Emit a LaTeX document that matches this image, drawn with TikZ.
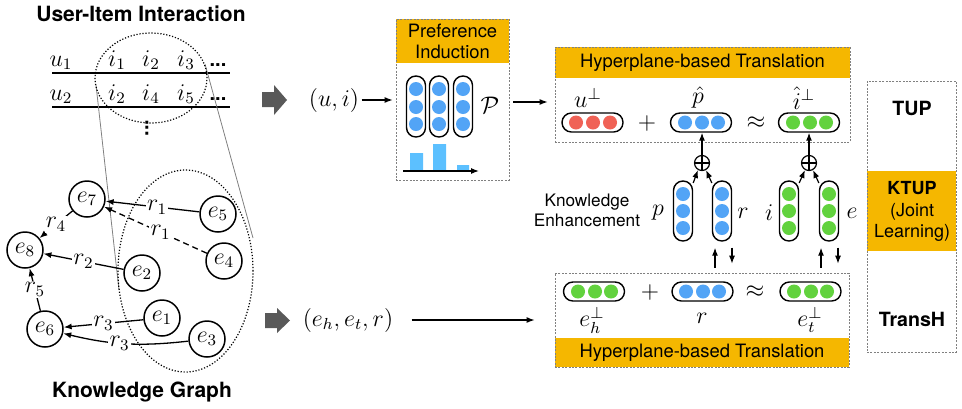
\documentclass[tikz,border=0pt]{standalone}
\usepackage{amsmath,amssymb}
\usepackage{fontspec}
\setsansfont{TeX Gyre Heros}
\usepackage{tikz}
\usetikzlibrary{arrows.meta}
\definecolor{gold}{RGB}{245,183,0}
\definecolor{dotblue}{RGB}{82,164,246}
\definecolor{dotred}{RGB}{240,98,86}
\definecolor{dotgreen}{RGB}{98,210,62}
\definecolor{barblue}{RGB}{92,192,255}

\begin{document}
\begin{tikzpicture}[x=0.5pt,y=-0.5pt,>={Latex[length=4pt,width=3pt]},
  mth/.style={font=\fontsize{12}{14}\selectfont,inner sep=1pt},
  headline/.style={font=\sffamily\bfseries\fontsize{10.5}{12}\selectfont},
  ent/.style={circle,draw,line width=0.75pt,fill=white,minimum size=18pt,inner sep=0pt,font=\fontsize{12}{14}\selectfont},
  rel/.style={fill=white,inner sep=0.6pt,font=\fontsize{12}{14}\selectfont},
  kgedge/.style={->,line width=0.65pt},
  hdr/.style={fill=gold,inner sep=0pt,font=\sffamily\fontsize{9.2}{10.5}\selectfont,align=center},
  panel/.style={draw=gray,dash pattern=on 1pt off 0.7pt,line width=0.4pt,inner sep=0pt},
  hpill/.style={draw,fill=white,rounded corners=4.7pt,line width=0.7pt,minimum width=30.5pt,minimum height=9.5pt,inner sep=0pt},
  vpill/.style={draw,fill=white,rounded corners=4.7pt,line width=0.7pt,minimum width=9.5pt,minimum height=30pt,inner sep=0pt},
  oplus/.style={circle,draw,line width=0.6pt,minimum size=7.5pt,inner sep=0pt,
    path picture={\draw[line width=0.6pt] (path picture bounding box.north) -- (path picture bounding box.south)
      (path picture bounding box.west) -- (path picture bounding box.east);}},
  lbl/.style={font=\sffamily\bfseries\fontsize{9.8}{11}\selectfont,align=center}]
\useasboundingbox (0,0) rectangle (962,408);

% user-item table
\node[headline] (uititle) at (141,14) {User-Item Interaction};
\node[mth,anchor=base] (u1) at (61,66) {$u_1$};
\node[mth,anchor=base] (i11) at (117,66) {$i_1$};
\node[mth,anchor=base] (i12) at (151,66) {$i_2$};
\node[mth,anchor=base] (i13) at (186,66) {$i_3$};
\node[anchor=base,font=\sffamily\bfseries] (more1) at (218,66) {...};
\node[mth,anchor=base] (u2) at (61,100) {$u_2$};
\node[mth,anchor=base] (i22) at (117,100) {$i_2$};
\node[mth,anchor=base] (i24) at (151,100) {$i_4$};
\node[mth,anchor=base] (i25) at (186,100) {$i_5$};
\node[anchor=base,font=\sffamily\bfseries] (more2) at (218,100) {...};
\node[rotate=90,font=\sffamily\bfseries] (vdots) at (147,128) {...};
\draw[line width=0.7pt] (52,73) -- (230,73) (52,107) -- (230,107);

% zoom cone between the two ellipses
\draw[gray,line width=0.4pt] (96,85) -- (119,290) (205,64) -- (253,238);
\draw[dash pattern=on 0.6pt off 0.9pt,line width=0.6pt] (151,78) ellipse [x radius=28pt,y radius=22.5pt];
\draw[dash pattern=on 0.6pt off 0.9pt,line width=0.6pt] (185.5,271) ellipse [x radius=33.75pt,y radius=50.5pt];

% knowledge graph
\node[ent] (e7) at (87,199) {$e_7$};
\node[ent] (e8) at (25,250) {$e_8$};
\node[ent] (e5) at (218,214) {$e_5$};
\node[ent] (e4) at (224,261) {$e_4$};
\node[ent] (e2) at (142,273) {$e_2$};
\node[ent] (e1) at (162,318) {$e_1$};
\node[ent] (e6) at (45,329) {$e_6$};
\node[ent] (e3) at (207,339) {$e_3$};
\draw[kgedge] (e5) -- node[rel,pos=0.45]{$r_1$} (e7);
\draw[kgedge,densely dashed] (e4) -- node[rel,pos=0.45]{$r_1$} (e7);
\draw[kgedge] (e7) -- node[rel]{$r_4$} (e8);
\draw[kgedge] (e2) -- node[rel]{$r_2$} (e8);
\draw[kgedge] (e6) -- node[rel]{$r_5$} (e8);
\draw[kgedge] (e1) -- node[rel]{$r_3$} (e6);
\draw[kgedge] (e3) to[bend left=10] node[rel,pos=0.55]{$r_3$} (e6);
\node[headline] (kgtitle) at (142,392) {Knowledge Graph};

% block arrows
\fill[black!65] (262,92) -- (274,92) -- (274,85) -- (287,100) -- (274,115) -- (274,107) -- (262,107) -- cycle;
\fill[black!65] (265,313) -- (277,313) -- (277,308) -- (290,320.5) -- (277,333) -- (277,328) -- (265,328) -- cycle;

% preference induction
\node[mth] (uipair) at (334,100) {$(u,i)$};
\node[hdr,minimum width=56.5pt,minimum height=22pt] (pihead) at (452.5,41) {Preference\\Induction};
\node[panel,minimum width=56.5pt,minimum height=80.5pt] (pibox) at (452.5,99.5) {};
\foreach \x in {416,439,463} {
  \node[vpill,minimum height=30.5pt] (pi\x) at (\x,106.5) {};
  \foreach \y in {89,107,124} \fill[dotblue] (\x,\y) circle (3.5pt);
}
\fill[barblue] (410,171) rectangle (423,153) (433,171) rectangle (446,144) (457,171) rectangle (469,165);
\draw[->,line width=0.6pt] (403,171) -- (479,171);
\node[mth] (pset) at (490,105) {$\mathcal{P}$};
\draw[->,line width=0.6pt,shorten >=1.5pt] (uipair) -- (pibox.west |- uipair);

% top translation
\node[hdr,minimum width=147.5pt,minimum height=15.5pt] (thead) at (702.5,62.5) {Hyperplane-based Translation};
\node[panel,minimum width=147.5pt,minimum height=47.5pt] (tbox) at (702.5,94.5) {};
\draw[->,line width=0.6pt,shorten <=2pt,shorten >=3.5pt] ([yshift=-1.25pt]pibox.east) -- ([yshift=-1.25pt]pibox.east -| tbox.west);
\node[hpill] (uperp) at (592.5,122.5) {};
\node[hpill] (pvec) at (701,122.5) {};
\node[hpill] (iperp) at (809,122.5) {};
\foreach \x in {576,593,610} \fill[dotred] (\x,122.5) circle (3.5pt);
\foreach \x in {685,702,718} \fill[dotblue] (\x,122.5) circle (3.5pt);
\foreach \x in {793,810,826} \fill[dotgreen] (\x,122.5) circle (3.5pt);
\node[mth] (ulab) at (588,98) {$u^{\perp}$};
\node[mth] (plab) at (698,97) {$\hat{p}$};
\node[mth] (ilab) at (804,98) {$\hat{i}^{\perp}$};
\node[mth] (plus1) at (647,123) {$+$};
\node[mth] (approx1) at (756,123) {$\approx$};

% knowledge enhancement
\node[font=\sffamily\fontsize{8.6}{10}\selectfont,align=center] (enh) at (587,210) {Knowledge\\Enhancement};
\node[oplus] (op1) at (702,163) {};
\node[oplus] (op2) at (809,163) {};
\node[vpill] (pv) at (683,211) {};
\node[vpill] (rv) at (722,211) {};
\node[vpill] (iv) at (789,211) {};
\node[vpill] (ev) at (829,211) {};
\foreach \x in {683,722} \foreach \y in {194,211,228} \fill[dotblue] (\x,\y) circle (3.5pt);
\foreach \x in {789,829} \foreach \y in {194,211,228} \fill[dotgreen] (\x,\y) circle (3.5pt);
\node[mth] (plet) at (658,213) {$p$};
\node[mth] (rlet) at (743,213) {$r$};
\node[mth] (ilet) at (769,213) {$i$};
\node[mth] (elet) at (852,213) {$e$};
\draw[->,line width=0.6pt] (op1.north) -- (op1.north |- pvec.south);
\draw[->,line width=0.6pt] (op2.north) -- (op2.north |- iperp.south);
\draw[->,line width=0.6pt] (pv.70) -- (op1.240);
\draw[->,line width=0.6pt] (rv.110) -- (op1.300);
\draw[->,line width=0.6pt] (iv.70) -- (op2.240);
\draw[->,line width=0.6pt] (ev.110) -- (op2.300);
\draw[->,line width=0.6pt] ([xshift=-3.5pt,yshift=-13pt]rv.south) -- ([xshift=-3.5pt,yshift=-3pt]rv.south);
\draw[->,line width=0.6pt] ([xshift=5pt,yshift=-3pt]rv.south) -- ([xshift=5pt,yshift=-11pt]rv.south);
\draw[->,line width=0.6pt] ([xshift=-4pt,yshift=-13pt]ev.south) -- ([xshift=-4pt,yshift=-3pt]ev.south);
\draw[->,line width=0.6pt] ([xshift=4.5pt,yshift=-3pt]ev.south) -- ([xshift=4.5pt,yshift=-11pt]ev.south);

% bottom translation
\node[mth] (triple) at (348,320) {$(e_h,e_t,r)$};
\node[hdr,minimum width=147pt,minimum height=14.5pt] (bhead) at (702,352.5) {Hyperplane-based Translation};
\node[panel,minimum width=147pt,minimum height=47pt] (bbox) at (702,320) {};
\draw[->,line width=0.6pt,shorten <=8pt,shorten >=10pt] (triple) -- (triple -| bbox.west);
\node[hpill] (ehv) at (594,291.5) {};
\node[hpill] (rvec) at (702.5,291.5) {};
\node[hpill] (etv) at (810.5,291.5) {};
\foreach \x in {578,595,611} \fill[dotgreen] (\x,291.5) circle (3.5pt);
\foreach \x in {686,703,719} \fill[dotblue] (\x,291.5) circle (3.5pt);
\foreach \x in {794,811,827} \fill[dotgreen] (\x,291.5) circle (3.5pt);
\node[mth] (ehlab) at (592,320) {$e_h^{\perp}$};
\node[mth] (rlab) at (702,318) {$r$};
\node[mth] (etlab) at (810,320) {$e_t^{\perp}$};
\node[mth] (plus2) at (650,292) {$+$};
\node[mth] (approx2) at (755,292) {$\approx$};

% model column
\node[hdr,minimum width=44.5pt,minimum height=40pt] (kband) at (911.5,211) {};
\node[panel,minimum width=44.5pt,minimum height=135.5pt] (models) at (911.5,216.5) {};
\node[lbl] (tup) at (912,108) {TUP};
\node[align=center,font=\sffamily\fontsize{9}{10.75}\selectfont] (ktup) at (912,211.5) {\textbf{KTUP}\\(Joint\\Learning)};
\node[lbl] (transh) at (912,319) {TransH};
\end{tikzpicture}
\end{document}
